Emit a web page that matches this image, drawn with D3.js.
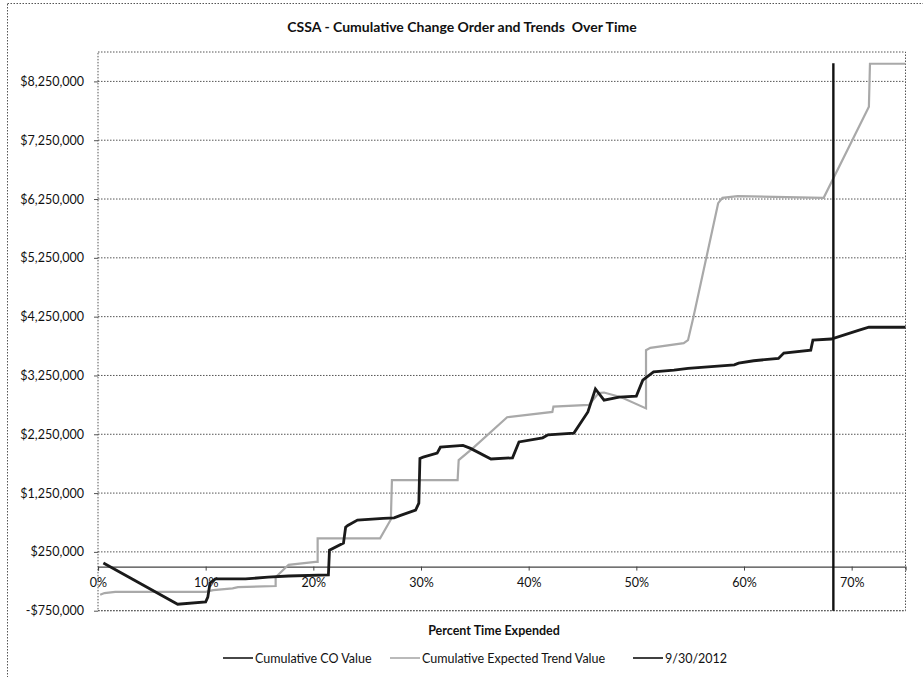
<!DOCTYPE html>
<html>
<head>
<meta charset="utf-8">
<script src="https://cdn.jsdelivr.net/npm/d3@7"></script>
<style>
  body { margin: 0; background: #fff; }
  text { font-family: Lato, "Open Sans", sans-serif; fill: #111; }
</style>
</head>
<body>
<script>
// percent time expended (x) and dollar values (y)
var coPct = [0.5, 7.4, 10.0, 10.2, 10.4, 10.9, 13.7, 15.8, 17.7, 21.4, 21.5, 22.8, 23.0, 23.2, 24.1, 26.5, 27.5, 28.1, 29.5, 29.8, 29.9, 30.2, 31.5, 31.8, 33.9, 34.6, 36.5, 38.5, 39.1, 41.3, 41.8, 44.2, 45.5, 46.2, 47.0, 48.4, 50.0, 50.6, 51.6, 53.5, 54.8, 59.1, 59.5, 60.9, 63.2, 63.7, 66.2, 66.4, 68.1, 70.7, 71.6, 75.0];
var coValue = [60000, -640000, -600000, -520000, -280000, -210000, -210000, -180000, -160000, -140000, 280000, 400000, 670000, 700000, 790000, 820000, 830000, 870000, 960000, 1080000, 1840000, 1860000, 1930000, 2030000, 2060000, 2010000, 1830000, 1850000, 2120000, 2190000, 2240000, 2270000, 2630000, 3020000, 2830000, 2880000, 2900000, 3170000, 3310000, 3340000, 3370000, 3430000, 3460000, 3500000, 3540000, 3630000, 3680000, 3850000, 3870000, 4020000, 4070000, 4070000];

var trendPct = [0.2, 0.6, 1.6, 10.0, 10.7, 12.5, 13.0, 16.5, 16.5, 17.7, 20.2, 20.4, 20.4, 26.2, 27.2, 27.3, 33.4, 33.5, 34.8, 38.0, 42.2, 42.3, 45.6, 46.5, 47.0, 48.6, 50.9, 50.9, 51.3, 54.4, 54.8, 55.3, 56.5, 57.6, 58.0, 59.4, 67.4, 71.6, 71.7, 75.0];
var trendValue = [-480000, -450000, -430000, -430000, -400000, -370000, -350000, -330000, -180000, 30000, 80000, 80000, 480000, 480000, 800000, 1470000, 1470000, 1810000, 2010000, 2540000, 2630000, 2720000, 2750000, 2950000, 2960000, 2880000, 2690000, 3680000, 3720000, 3800000, 3850000, 4240000, 5250000, 6180000, 6270000, 6300000, 6270000, 7820000, 8550000, 8550000];

var datePct = [68.3, 68.3];
var dateValue = [-750000, 8560000];

var yTicks = [-750000, 250000, 1250000, 2250000, 3250000, 4250000, 5250000, 6250000, 7250000, 8250000];
var xTicks = [0, 10, 20, 30, 40, 50, 60, 70];

var seriesNames = ["Cumulative CO Value", "Cumulative Expected Trend Value", "9/30/2012"];
var seriesColors = ["#1a1a1a", "#a9a9a9", "#111111"];

var W = 923, H = 677;
var plotL = 98, plotT = 52, plotR = 905.5, plotB = 610.7;

var svg = d3.select("body").append("svg")
    .attr("width", W)
    .attr("height", H);

// chart frame (dotted, as in the scan)
svg.append("rect")
    .attr("x", 7.5).attr("y", 3.5)
    .attr("width", W).attr("height", H)
    .attr("fill", "none")
    .attr("stroke", "#555")
    .attr("stroke-dasharray", "1.5,1.5");

var x = d3.scaleLinear().domain([0, 75]).range([plotL, plotR]);
var y = d3.scaleLinear().domain([-750000, 8750000]).range([plotB, plotT]);

var money = function(v) {
    var s = d3.format(",")(Math.abs(v));
    return (v < 0 ? "-$" : "$") + s;
};

// gridlines
svg.append("g")
    .selectAll("line")
    .data(yTicks)
    .enter()
    .append("line")
    .attr("x1", plotL).attr("x2", plotR)
    .attr("y1", function(d) { return y(d); })
    .attr("y2", function(d) { return y(d); })
    .attr("stroke", "#555")
    .attr("stroke-width", 1)
    .attr("stroke-dasharray", "1.5,1.5");

// plot border
svg.append("rect")
    .attr("x", plotL).attr("y", plotT)
    .attr("width", plotR - plotL).attr("height", plotB - plotT)
    .attr("fill", "none")
    .attr("stroke", "#555")
    .attr("stroke-dasharray", "1.5,1.5");

// y axis
var yAxis = d3.axisLeft(y)
    .tickValues(yTicks)
    .tickFormat(money)
    .tickSize(4)
    .tickPadding(10);

var gy = svg.append("g")
    .attr("transform", "translate(" + plotL + ",0)")
    .call(yAxis);
gy.select(".domain").remove();
gy.selectAll("line").attr("stroke", "#555");
gy.selectAll("text").style("font-size", "12.5px").style("fill", "#111");

// x axis sits on the zero line
var xAxis = d3.axisBottom(x)
    .tickValues(xTicks)
    .tickFormat(function(d) { return d + "%"; })
    .tickSize(4)
    .tickPadding(8);

var gx = svg.append("g")
    .attr("transform", "translate(0," + y(0) + ")")
    .call(xAxis);
gx.select(".domain").attr("stroke", "#444").attr("stroke-width", 1.2);
gx.selectAll("line").attr("stroke", "#444");
gx.selectAll("text").style("font-size", "12.5px").style("fill", "#111");

var line = d3.line()
    .x(function(d) { return x(d[0]); })
    .y(function(d) { return y(d[1]); });

var trendData = d3.zip(trendPct, trendValue);
var coData = d3.zip(coPct, coValue);
var dateData = d3.zip(datePct, dateValue);

svg.append("path")
    .datum(trendData)
    .attr("d", line)
    .attr("fill", "none")
    .attr("stroke", seriesColors[1])
    .attr("stroke-width", 2.2);

svg.append("path")
    .datum(coData)
    .attr("d", line)
    .attr("fill", "none")
    .attr("stroke", seriesColors[0])
    .attr("stroke-width", 2.8);

svg.append("path")
    .datum(dateData)
    .attr("d", line)
    .attr("fill", "none")
    .attr("stroke", seriesColors[2])
    .attr("stroke-width", 2.4);

// titles
svg.append("text")
    .attr("x", 462).attr("y", 32)
    .attr("text-anchor", "middle")
    .attr("xml:space", "preserve")
    .style("font-size", "14px")
    .style("font-weight", "bold")
    .text("CSSA - Cumulative Change Order and Trends  Over Time");

svg.append("text")
    .attr("x", 494).attr("y", 635)
    .attr("text-anchor", "middle")
    .style("font-size", "12.5px")
    .style("font-weight", "bold")
    .text("Percent Time Expended");

// legend
var legendX = [223, 390, 633];
var lg = svg.append("g")
    .selectAll("g")
    .data(seriesNames)
    .enter()
    .append("g")
    .attr("transform", function(d, i) { return "translate(" + legendX[i] + ",658)"; });

lg.append("line")
    .attr("x1", 0).attr("x2", 30)
    .attr("y1", 0).attr("y2", 0)
    .attr("stroke", function(d, i) { return seriesColors[i]; })
    .attr("stroke-width", 1.6);

lg.append("text")
    .attr("x", 32).attr("y", 4.5)
    .style("font-size", "12.5px")
    .text(function(d) { return d; });
</script>
</body>
</html>
